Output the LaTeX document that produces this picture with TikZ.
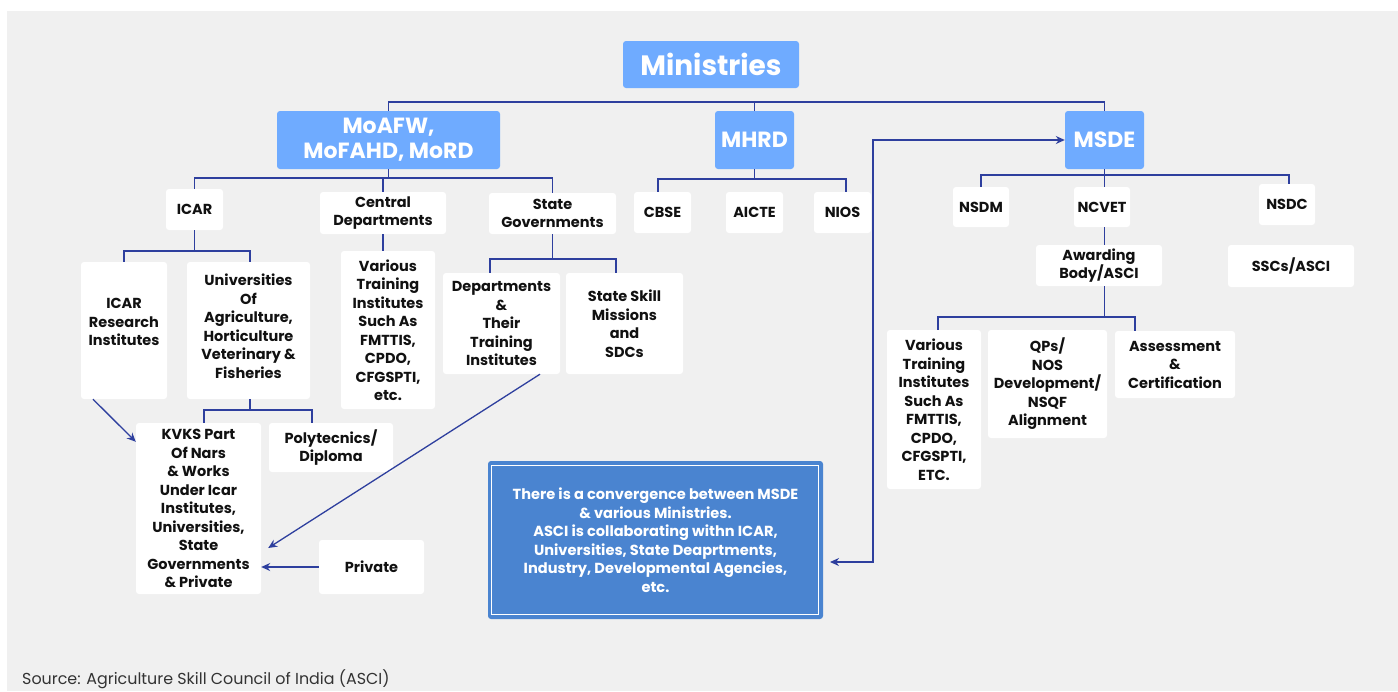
\documentclass[tikz,border=0pt]{standalone}
\usepackage{fontspec}
\setmainfont{Poppins}
\usetikzlibrary{arrows.meta}
\definecolor{bg}{HTML}{F0F0F0}
\definecolor{lblue}{HTML}{6FABFF}
\definecolor{nblue}{HTML}{4A84D0}
\definecolor{ln}{HTML}{2E3F9E}
\definecolor{txt}{HTML}{111111}
\tikzset{
  sz/.style 2 args={minimum width=#1pt, minimum height=#2pt},
  wbox/.style={fill=white, rounded corners=3pt, align=center, inner sep=0pt,
    font=\fontsize{14.5}{18.5}\selectfont\bfseries, text=txt},
  bbox/.style={fill=lblue, rounded corners=3pt, align=center, inner sep=0pt,
    text=white, font=\fontsize{22}{25}\selectfont\bfseries},
  notebox/.style={fill=nblue, rounded corners=3pt, align=center, inner sep=0pt,
    text=white, font=\fontsize{14.6}{18.5}\selectfont\bfseries},
  conn/.style={draw=ln, line width=1.3pt},
  tip/.style={-{Stealth[length=9pt,width=8pt]}},
  arr/.style={conn, tip},
}
\begin{document}
\begin{tikzpicture}[x=1pt,y=-1pt]
\useasboundingbox (0,0) rectangle (1398,691);
\fill[white] (0,0) rectangle (1398,691);
\fill[bg] (7,11) rectangle (1398,691);

% top level
\node[bbox, sz={176}{47}, font=\fontsize{28}{32}\selectfont\bfseries] (min) at (711,64.5) {Ministries};
\node[bbox, sz={223}{58}] (moa) at (388.5,140) {MoAFW,\\MoFAHD, MoRD};
\node[bbox, sz={79}{58}] (mhrd) at (754.5,140) {MHRD};
\node[bbox, sz={79}{58}] (msde) at (1104.5,140) {MSDE};

% MoAFW branch
\node[wbox, sz={57}{41}] (icar) at (194.5,209.5) {ICAR};
\node[wbox, sz={126}{42}] (cdep) at (383,213) {Central\\Departments};
\node[wbox, sz={127}{41}] (sgov) at (552.5,213.5) {State\\Governments};
\node[wbox, sz={86}{137}] (icri) at (124,330.5) {ICAR\\Research\\Institutes\\[-1.5pt]};
\node[wbox, sz={123}{137}] (univ) at (248.5,330.5) {Universities\\Of\\Agriculture,\\Horticulture\\Veterinary \&\\Fisheries\\[-10pt]};
\node[wbox, sz={94}{158}] (vti) at (388,330) {Various\\Training\\Institutes\\Such As\\FMTTIS,\\CPDO,\\CFGSPTI,\\etc.};
\node[wbox, sz={125}{171}] (kvk) at (198.5,508.5) {KVKS Part\\Of Nars\\\& Works\\Under Icar\\Institutes,\\Universities,\\State\\Governments\\\& Private};
\node[wbox, sz={124}{49}] (poly) at (331,447.5) {Polytecnics/\\Diploma};
\node[wbox, sz={105}{54}] (priv) at (371.5,567) {Private};
\node[wbox, sz={117}{101}] (dept) at (501.5,323.5) {Departments\\\&\\Their\\Training\\Institutes};
\node[wbox, sz={117}{101}] (ssm) at (624.5,323.5) {State Skill\\Missions\\and\\SDCs};

% MHRD branch
\node[wbox, sz={57}{41}] (cbse) at (662.5,212.5) {CBSE};
\node[wbox, sz={57}{41}] (aicte) at (754.5,212.5) {AICTE};
\node[wbox, sz={57}{41}] (nios) at (842.5,212.5) {NIOS};

% MSDE branch
\node[wbox, sz={56}{40}] (nsdm) at (981,207) {NSDM};
\node[wbox, sz={56}{40}] (ncvet) at (1102,207) {NCVET};
\node[wbox, sz={56}{41}] (nsdc) at (1287,204.5) {NSDC};
\node[wbox, sz={126}{41}] (awb) at (1099,265.5) {Awarding\\Body/ASCI};
\node[wbox, sz={126}{42}] (ssc) at (1291,266) {SSCs/ASCI};
\node[wbox, sz={94}{159}] (vti2) at (934,409.5) {Various\\Training\\Institutes\\Such As\\FMTTIS,\\CPDO,\\CFGSPTI,\\ETC.};
\node[wbox, sz={119}{108}] (qps) at (1047.5,384) {QPs/\\NOS\\Development/\\NSQF\\Alignment};
\node[wbox, sz={120}{67}] (asc) at (1175,364.5) {Assessment\\\&\\Certification};

% note
\node[notebox, sz={335}{158}] (note) at (655.5,540) {There is a convergence between MSDE\\\& various Ministries.\\ASCI is collaborating withn ICAR,\\Universities, State Deaprtments,\\Industry, Developmental Agencies,\\etc.};
\draw[white, line width=0.9pt] ([xshift=4pt,yshift=-5pt]note.north west) rectangle ([xshift=-5pt,yshift=5pt]note.south east);

% source
\node[anchor=base west, inner sep=0pt, font=\fontsize{15.9}{18}\selectfont, text=black!80] (src) at (22,684) {Source: Agriculture Skill Council of India (ASCI)};

% tree connectors
\coordinate (bTop) at (754.5,102);
\draw[conn] (moa.north) |- (bTop) -| (msde.north);
\draw[conn] (mhrd.north) -- (bTop);

\coordinate (bMoa) at (388.5,178);
\draw[conn] (moa.south) -- (bMoa);
\draw[conn] (icar.north) |- (bMoa) -| (sgov.north);
\draw[conn] (cdep.north) -- (cdep.north |- bMoa);

\coordinate (bIcar) at (194.5,251);
\draw[conn] (icar.south) -- (bIcar);
\draw[conn] (icri.north) |- (bIcar) -| ([xshift=1.5pt]univ.north);

\draw[conn] (cdep.south) -- (cdep.south |- vti.north);

\coordinate (bUniv) at (250,410);
\draw[conn] ([xshift=1.5pt]univ.south) -- (bUniv);
\draw[conn] ([xshift=5.5pt]kvk.north) |- (bUniv) -| ([xshift=-19pt]poly.north);

\coordinate (bSgov) at (552.5,259);
\draw[conn] (sgov.south) -- (bSgov);
\draw[conn] ([xshift=-11.5pt]dept.north) |- (bSgov) -| ([xshift=-8.5pt]ssm.north);

\coordinate (bMhrd) at (754.5,179);
\draw[conn] (mhrd.south) -- (bMhrd);
\draw[conn] ([xshift=-4.5pt]cbse.north) |- (bMhrd) -| ([xshift=3.5pt]nios.north);

\coordinate (bMsde) at (1104.5,175);
\draw[conn] (msde.south) -- (msde.south |- ncvet.north);
\draw[conn] (nsdm.north) |- (bMsde) -| ([xshift=2pt]nsdc.north);
\draw[conn] (msde.south |- ncvet.south) -- (msde.south |- awb.north);

\coordinate (bAwb) at (1104.5,317);
\draw[conn] (msde.south |- awb.south) -- (bAwb);
\draw[conn] ([xshift=4pt]vti2.north) |- (bAwb) -| ([xshift=-40pt]asc.north);

% arrows
\draw[arr] ([xshift=-31pt]icri.south) -- ([yshift=-19pt]kvk.north west);
\draw[arr] ([xshift=38.5pt]dept.south) -- ([xshift=7pt,yshift=-39.5pt]kvk.east);
\draw[arr] (priv.west) -- (kvk.east |- priv.west);
\coordinate (noteTip) at (830,562);
\coordinate (lpB) at (873,562);
\coordinate (lpT) at (873,140);
\draw[conn, {Stealth[length=9pt,width=8pt]}-{Stealth[length=9pt,width=8pt]}] (noteTip) -- (lpB) -- (lpT) -- (msde.west);
\end{tikzpicture}
\end{document}
